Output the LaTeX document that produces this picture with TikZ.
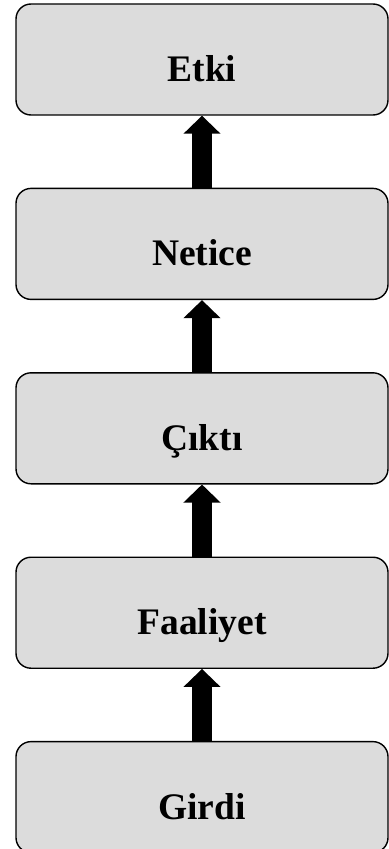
\documentclass[tikz,border=0pt]{standalone}
\usepackage{fontspec}
\setmainfont{Liberation Serif}
\usetikzlibrary{positioning,arrows.meta}
\definecolor{boxgray}{HTML}{DCDCDC}
\tikzset{
    stage/.style={draw=black, line width=1.2pt, fill=boxgray, rounded corners=0.45cm,
        minimum width=11.16cm, minimum height=3.33cm, text height=1.32cm, text depth=0pt,
        font=\fontsize{32}{38}\selectfont\bfseries},
    flow/.style={line width=0.6cm, -{Triangle[width=1.08cm,length=0.54cm]}}
}

\begin{document}
\begin{tikzpicture}
    \useasboundingbox (0,0) rectangle (11.67,-25.47);
    \node[stage] (etki) at (6.06,-1.785) {Etki};
    \node[stage, below=2.16cm of etki] (netice) {Netice};
    \node[stage, below=2.16cm of netice] (cikti) {Çıktı};
    \node[stage, below=2.16cm of cikti] (faaliyet) {Faaliyet};
    \node[stage, below=2.16cm of faaliyet] (girdi) {Girdi};
    \draw[flow] (girdi) -- (faaliyet);
    \draw[flow] (faaliyet) -- (cikti);
    \draw[flow] (cikti) -- (netice);
    \draw[flow] (netice) -- (etki);
\end{tikzpicture}
\end{document}
